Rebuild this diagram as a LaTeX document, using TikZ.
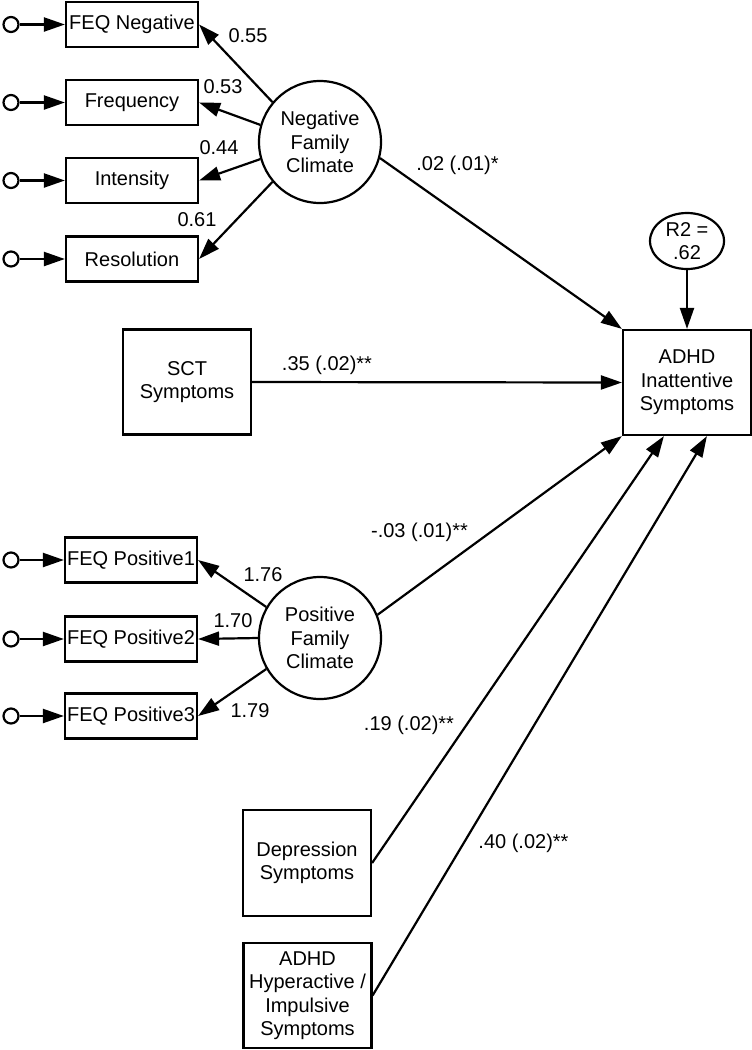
\documentclass[tikz,border=0pt]{standalone}
\usepackage{fontspec}
\setmainfont{Liberation Sans}
\usetikzlibrary{arrows.meta,shapes.geometric,calc}
\begin{document}
\begin{tikzpicture}[x=1pt,y=-1pt,
  every node/.style={font=\fontsize{20pt}{23.5pt}\selectfont},
  obs/.style={draw,line width=2.2pt,rectangle,inner sep=0pt,minimum width=132pt,minimum height=45pt},
  bigbox/.style={draw,line width=2.2pt,rectangle,inner sep=0pt,minimum width=128pt,minimum height=105pt,align=center},
  lat/.style={draw,line width=2.2pt,circle,inner sep=0pt,minimum size=122pt,align=center},
  err/.style={draw,line width=2.2pt,circle,inner sep=0pt,minimum size=15pt},
  path/.style={line width=2.2pt,-{Triangle[length=21pt,width=14pt]}},
  lbl/.style={inner sep=0pt}
]
\useasboundingbox (0,0) rectangle (752,1050);

% indicator boxes
\node[obs] (fneg) at (132,24.5) {FEQ Negative};
\node[obs] (freq) at (132,102.5) {Frequency};
\node[obs] (inten) at (132,180.5) {Intensity};
\node[obs] (reso) at (132,259) {Resolution};
\node[obs] (fp1) at (131,560) {FEQ Positive1};
\node[obs] (fp2) at (131,639) {FEQ Positive2};
\node[obs] (fp3) at (131,716) {FEQ Positive3};

% error circles
\node[err] (e1) at (11,24.5) {};
\node[err] (e2) at (11,102.5) {};
\node[err] (e3) at (11,180.5) {};
\node[err] (e4) at (11,259) {};
\node[err] (e5) at (11,560) {};
\node[err] (e6) at (11,639) {};
\node[err] (e7) at (11,716) {};
\foreach \e/\b in {e1/fneg,e2/freq,e3/inten,e4/reso,e5/fp1,e6/fp2,e7/fp3}
  \draw[path] (\e.east) -- (\b.west);

% latent variables
\node[lat] (nfc) at (320,142) {Negative\\Family\\Climate};
\node[lat] (pfc) at (320,638) {Positive\\Family\\Climate};

% other boxes
\node[bigbox] (sct) at (187,382) {SCT\\Symptoms};
\node[bigbox] (adhd) at (687,382.5) {ADHD\\Inattentive\\Symptoms};
\node[bigbox,minimum height=106pt] (dep) at (307,863) {Depression\\Symptoms};
\node[bigbox] (hyp) at (307.5,995.5) {ADHD\\Hyperactive /\\Impulsive\\Symptoms};
\node[draw,line width=2.2pt,ellipse,inner sep=0pt,minimum width=74pt,minimum height=56pt,align=center] (r2) at (687,241) {R2 =\\.62};

% loadings
\draw[path] (nfc.140) -- (fneg.east);
\draw[path] (nfc.164) -- (freq.east);
\draw[path] (nfc.196) -- (inten.east);
\draw[path] (nfc.220) -- (reso.east);
\draw[path] (pfc.150) -- (fp1.east);
\draw[path] (pfc.180) -- (fp2.east);
\draw[path] (pfc.210) -- (fp3.east);

\node[lbl] (l1) at (248,36) {0.55};
\node[lbl] (l2) at (223,87) {0.53};
\node[lbl] (l3) at (219,148) {0.44};
\node[lbl] (l4) at (197,220) {0.61};
\node[lbl] (l5) at (263,575) {1.76};
\node[lbl] (l6) at (233,621) {1.70};
\node[lbl] (l7) at (250,711) {1.79};

% structural paths
\coordinate (d1) at ($(adhd.south west)+(42,0)$);
\coordinate (d2) at ($(adhd.south west)+(85,0)$);
\draw[path] (nfc.-15) -- (adhd.north west);
\draw[path] (sct.east) -- (adhd.west);
\draw[path] (pfc.22) -- (adhd.south west);
\draw[path] (dep.east) -- (d1);
\draw[path] (hyp.east) -- (d2);
\draw[path] (r2.south) -- (adhd.north);

\node[lbl] (s1) at (457.5,165) {.02 (.01)*};
\node[lbl] (s2) at (327,365) {.35 (.02)**};
\node[lbl] (s3) at (419.5,532) {-.03 (.01)**};
\node[lbl] (s4) at (409,725) {.19 (.02)**};
\node[lbl] (s5) at (523.5,843) {.40 (.02)**};
\end{tikzpicture}
\end{document}
